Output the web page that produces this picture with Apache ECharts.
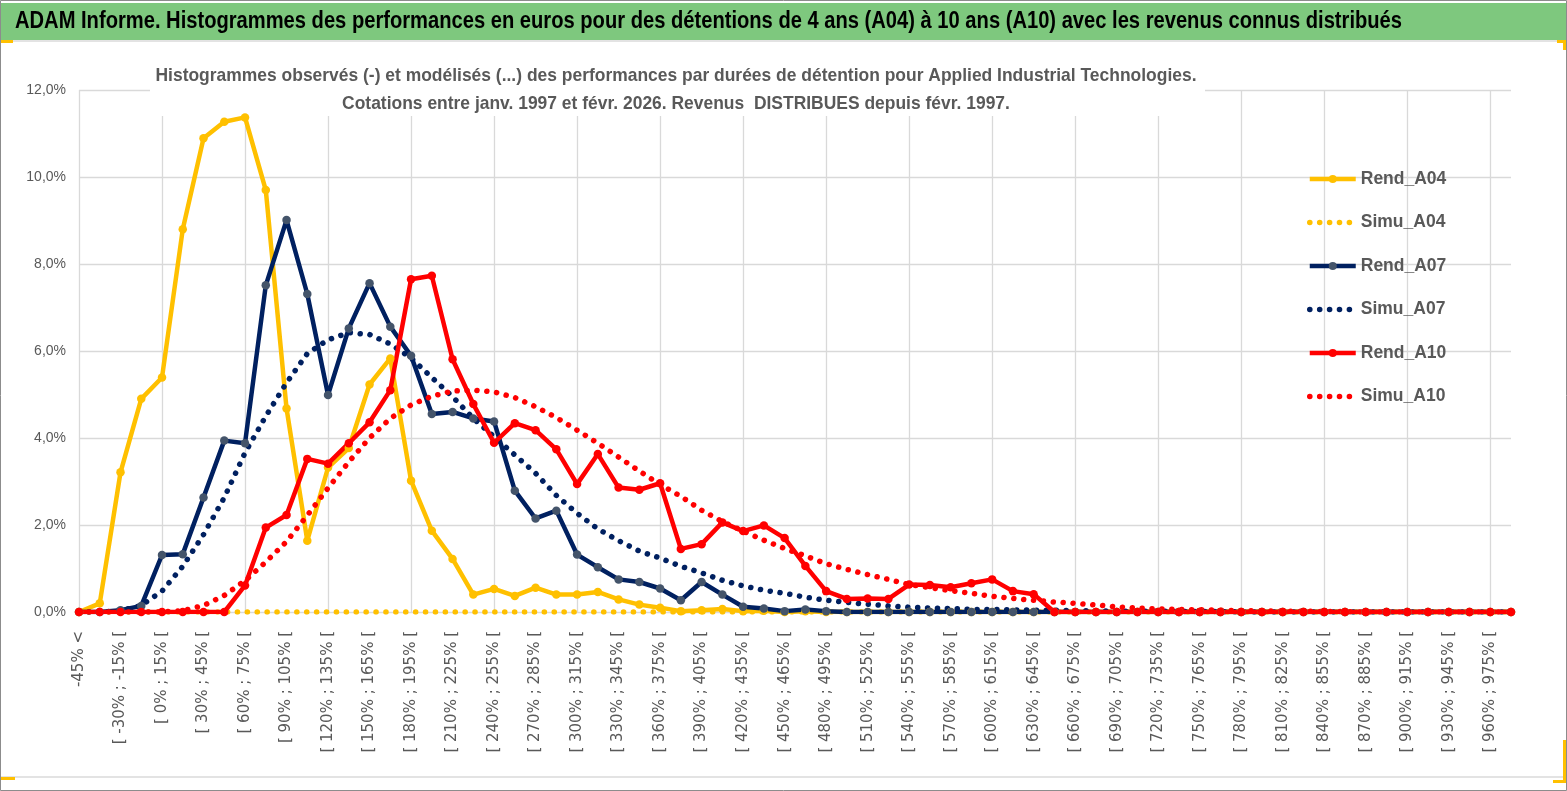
<!DOCTYPE html>
<html><head><meta charset="utf-8">
<script src="https://cdn.jsdelivr.net/npm/echarts@6/dist/echarts.min.js"></script>
<style>html,body{margin:0;padding:0;background:#fff;overflow:hidden}#c{width:1567px;height:791px}</style>
</head><body><div id="c"></div>
<script>
const categories = [
"-45% <",
"[ -45% ; -30% [", "[ -30% ; -15% [", "[ -15% ; 0% [", "[ 0% ; 15% [", "[ 15% ; 30% [", "[ 30% ; 45% [", "[ 45% ; 60% [", "[ 60% ; 75% [", "[ 75% ; 90% [", "[ 90% ; 105% [",
"[ 105% ; 120% [", "[ 120% ; 135% [", "[ 135% ; 150% [", "[ 150% ; 165% [", "[ 165% ; 180% [", "[ 180% ; 195% [", "[ 195% ; 210% [", "[ 210% ; 225% [", "[ 225% ; 240% [", "[ 240% ; 255% [",
"[ 255% ; 270% [", "[ 270% ; 285% [", "[ 285% ; 300% [", "[ 300% ; 315% [", "[ 315% ; 330% [", "[ 330% ; 345% [", "[ 345% ; 360% [", "[ 360% ; 375% [", "[ 375% ; 390% [", "[ 390% ; 405% [",
"[ 405% ; 420% [", "[ 420% ; 435% [", "[ 435% ; 450% [", "[ 450% ; 465% [", "[ 465% ; 480% [", "[ 480% ; 495% [", "[ 495% ; 510% [", "[ 510% ; 525% [", "[ 525% ; 540% [", "[ 540% ; 555% [",
"[ 555% ; 570% [", "[ 570% ; 585% [", "[ 585% ; 600% [", "[ 600% ; 615% [", "[ 615% ; 630% [", "[ 630% ; 645% [", "[ 645% ; 660% [", "[ 660% ; 675% [", "[ 675% ; 690% [", "[ 690% ; 705% [",
"[ 705% ; 720% [", "[ 720% ; 735% [", "[ 735% ; 750% [", "[ 750% ; 765% [", "[ 765% ; 780% [", "[ 780% ; 795% [", "[ 795% ; 810% [", "[ 810% ; 825% [", "[ 825% ; 840% [", "[ 840% ; 855% [",
"[ 855% ; 870% [", "[ 870% ; 885% [", "[ 885% ; 900% [", "[ 900% ; 915% [", "[ 915% ; 930% [", "[ 930% ; 945% [", "[ 945% ; 960% [", "[ 960% ; 975% [", "[ 975% ; 990% ["
];

const yTicks = [0, 2, 4, 6, 8, 10, 12];

// values in %
const rendA04 = [
 0, 0.20, 3.21, 4.90, 5.39, 8.80, 10.89, 11.27, 11.37, 9.70,
 4.68, 1.64, 3.32, 3.77, 5.23, 5.83, 3.02, 1.87, 1.22, 0.40,
 0.53, 0.37, 0.56, 0.40, 0.40, 0.46, 0.29, 0.17, 0.10, 0.02,
 0.04, 0.07, 0.02, 0.03, 0, 0.02, 0, 0, 0, 0,
 0, 0, 0, 0, 0, 0, 0, 0, 0, 0,
 0, 0, 0, 0, 0, 0, 0, 0, 0, 0,
 0, 0, 0, 0, 0, 0, 0, 0, 0, 0
];
const simuA04 = [
 0, 0, 0, 0, 0, 0, 0, 0, 0, 0,
 0, 0, 0, 0, 0, 0, 0, 0, 0, 0,
 0, 0, 0, 0, 0, 0, 0, 0, 0, 0,
 0, 0, 0, 0, 0, 0, 0, 0, 0, 0,
 0, 0, 0, 0, 0, 0, 0, 0, 0, 0,
 0, 0, 0, 0, 0, 0, 0, 0, 0, 0,
 0, 0, 0, 0, 0, 0, 0, 0, 0, 0
];
const rendA07 = [
 0, 0, 0.04, 0.14, 1.31, 1.33, 2.63, 3.94, 3.88, 7.51,
 9.01, 7.31, 4.99, 6.52, 7.56, 6.56, 5.89, 4.55, 4.60, 4.45,
 4.38, 2.79, 2.15, 2.33, 1.32, 1.03, 0.75, 0.69, 0.54, 0.27,
 0.69, 0.40, 0.12, 0.08, 0.02, 0.06, 0.02, 0, 0, 0,
 0, 0, 0, 0, 0, 0, 0, 0, 0, 0,
 0, 0, 0, 0, 0, 0, 0, 0, 0, 0,
 0, 0, 0, 0, 0, 0, 0, 0, 0, 0
];
const simuA07 = [
 0, 0, 0.03, 0.15, 0.48, 1.05, 1.78, 2.63, 3.66, 4.50,
 5.27, 5.94, 6.26, 6.42, 6.38, 6.16, 5.84, 5.39, 4.95, 4.45,
 4.03, 3.61, 3.19, 2.68, 2.27, 1.91, 1.64, 1.40, 1.24, 1.05,
 0.90, 0.73, 0.60, 0.50, 0.43, 0.34, 0.27, 0.22, 0.18, 0.14,
 0.11, 0.09, 0.08, 0.06, 0.06, 0.05, 0.04, 0.04, 0.03, 0.03,
 0.02, 0.02, 0.02, 0.01, 0.01, 0.01, 0, 0, 0, 0,
 0, 0, 0, 0, 0, 0, 0, 0, 0, 0
];
const rendA10 = [
 0, 0, 0, 0, 0, 0, 0, 0, 0.61, 1.94,
 2.23, 3.52, 3.41, 3.88, 4.36, 5.10, 7.65, 7.73, 5.81, 4.78,
 3.89, 4.34, 4.18, 3.74, 2.94, 3.63, 2.86, 2.81, 2.96, 1.45,
 1.56, 2.06, 1.86, 1.99, 1.70, 1.06, 0.48, 0.30, 0.31, 0.30,
 0.63, 0.62, 0.57, 0.66, 0.75, 0.48, 0.41, 0, 0, 0,
 0, 0, 0, 0, 0, 0, 0, 0, 0, 0,
 0, 0, 0, 0, 0, 0, 0, 0, 0, 0
];
const simuA10 = [
 0, 0, 0, 0, 0, 0.03, 0.15, 0.38, 0.72, 1.15,
 1.62, 2.22, 2.85, 3.45, 4.00, 4.45, 4.76, 4.96, 5.08, 5.10,
 5.06, 4.93, 4.72, 4.47, 4.18, 3.88, 3.56, 3.24, 2.93, 2.66,
 2.34, 2.08, 1.86, 1.65, 1.46, 1.29, 1.11, 0.98, 0.86, 0.75,
 0.63, 0.56, 0.49, 0.43, 0.36, 0.31, 0.27, 0.23, 0.20, 0.16,
 0.12, 0.09, 0.07, 0.06, 0.05, 0.04, 0.03, 0.03, 0.02, 0.02,
 0.01, 0.01, 0, 0, 0, 0, 0, 0, 0, 0
];

const seriesNames = ["Rend_A04", "Simu_A04", "Rend_A07", "Simu_A07", "Rend_A10", "Simu_A10"];
const mainTitle = "ADAM Informe. Histogrammes des performances en euros pour des détentions de 4 ans (A04) à 10 ans (A10) avec les revenus connus distribués";
const subTitle1 = "Histogrammes observés (-) et modélisés (...) des performances par durées de détention pour Applied Industrial Technologies.";
const subTitle2 = "Cotations entre janv. 1997 et févr. 2026. Revenus  DISTRIBUES depuis févr. 1997.";

const YEL = '#FFC000', NAVY = '#002060', NAVYM = '#44546A', RED = '#FF0000';
const GRID = '#D9D9D9', TXT = '#595959';
const SANS = '"Liberation Sans", Arial, sans-serif';

// horizontal condensing factors so text widths match the reference (no narrow font available)
const mctx = document.createElement('canvas').getContext('2d');
function fitScale(text, font, target) {
  mctx.font = font;
  const w = mctx.measureText(text).width;
  return w > 0 ? target / w : 1;
}
const TITLE_FONT = 'bold 23px ' + SANS;
const SUB_FONT = 'bold 19px ' + SANS;
const titleScale = fitScale(mainTitle, TITLE_FONT, 1387);
const subScale = fitScale(subTitle1, SUB_FONT, 1041);

function rend(name, data, lineColor, markColor) {
  return {
    name, type: 'line', data, symbol: 'circle', symbolSize: 8.5, showAllSymbol: true,
    lineStyle: { color: lineColor, width: 4.5 },
    itemStyle: { color: markColor, borderWidth: 0 },
    emphasis: { disabled: true }
  };
}
function simu(name, data, color) {
  return {
    name, type: 'line', data, symbol: 'none', showSymbol: false,
    lineStyle: { color, width: 5.5, type: [0.1, 9.8], cap: 'round' },
    itemStyle: { color },
    emphasis: { disabled: true }
  };
}

const chart = echarts.init(document.getElementById('c'), null, { renderer: 'canvas' });
chart.setOption({
  animation: false,
  backgroundColor: '#fff',
  grid: { left: 79, right: 56, top: 90, bottom: 179, containLabel: false },
  legend: {
    orient: 'vertical', left: 1307, top: 170, padding: 0,
    itemWidth: 46, itemHeight: 10, itemGap: 25.5,
    data: [
      { name: seriesNames[0], lineStyle: { width: 4.5 } },
      { name: seriesNames[1], lineStyle: { width: 5.5 }, itemStyle: { opacity: 0 } },
      { name: seriesNames[2], lineStyle: { width: 4.5 } },
      { name: seriesNames[3], lineStyle: { width: 5.5 }, itemStyle: { opacity: 0 } },
      { name: seriesNames[4], lineStyle: { width: 4.5 } },
      { name: seriesNames[5], lineStyle: { width: 5.5 }, itemStyle: { opacity: 0 } }
    ],
    textStyle: { fontFamily: SANS, fontWeight: 'bold', fontSize: 17.5, lineHeight: 18, color: TXT, padding: [0, 0, 0, 0] }
  },
  xAxis: {
    type: 'category', data: categories, boundaryGap: false,
    axisLine: { show: true, lineStyle: { color: GRID } },
    axisTick: { show: false },
    axisLabel: { interval: 1, rotate: 90, color: TXT, fontFamily: 'DejaVu Sans', fontSize: 15, margin: 19 },
    splitLine: { show: true, interval: 3, lineStyle: { color: GRID, width: 1.3 } }
  },
  yAxis: {
    type: 'value', min: yTicks[0], max: yTicks[yTicks.length - 1], interval: 2,
    axisLine: { show: false }, axisTick: { show: false },
    axisLabel: { color: TXT, fontFamily: SANS, fontSize: 14, margin: 13,
      formatter: v => v.toFixed(1).replace('.', ',') + '%' },
    splitLine: { lineStyle: { color: GRID, width: 1.3 } }
  },
  graphic: [
    { type: 'rect', z: 1, silent: true, shape: { x: 0.5, y: 0.5, width: 1566, height: 790 }, style: { fill: null, stroke: '#8c8c8c', lineWidth: 1 } },
    { type: 'rect', z: 1, silent: true, shape: { x: 1, y: 3, width: 1565, height: 37 }, style: { fill: '#7EC87E' } },
    { type: 'rect', z: 1, silent: true, shape: { x: 1, y: 40, width: 1565, height: 2 }, style: { fill: '#E3E3E3' } },
    { type: 'rect', z: 1, silent: true, shape: { x: 1, y: 776, width: 1565, height: 2 }, style: { fill: '#E3E3E3' } },
    { type: 'rect', z: 2, silent: true, shape: { x: 1, y: 40, width: 12, height: 3 }, style: { fill: YEL } },
    { type: 'rect', z: 2, silent: true, shape: { x: 1, y: 777, width: 14, height: 3 }, style: { fill: YEL } },
    { type: 'rect', z: 2, silent: true, shape: { x: 1557, y: 40, width: 9, height: 3 }, style: { fill: YEL } },
    { type: 'rect', z: 2, silent: true, shape: { x: 1563, y: 40, width: 3, height: 10 }, style: { fill: YEL } },
    { type: 'rect', z: 2, silent: true, shape: { x: 1563, y: 740, width: 3, height: 42 }, style: { fill: YEL } },
    { type: 'rect', z: 2, silent: true, shape: { x: 1553, y: 780, width: 13, height: 3 }, style: { fill: YEL } },
    { type: 'text', z: 3, silent: true, x: 15, y: 22, scaleX: titleScale,
      style: { text: mainTitle, font: TITLE_FONT, fill: '#000', align: 'left', verticalAlign: 'middle' } },
    { type: 'rect', z: 1, silent: true, shape: { x: 150, y: 58, width: 1055, height: 58 }, style: { fill: '#fff' } },
    { type: 'text', z: 3, silent: true, x: 676, y: 76, scaleX: subScale,
      style: { text: subTitle1, font: SUB_FONT, fill: TXT, align: 'center', verticalAlign: 'middle' } },
    { type: 'text', z: 3, silent: true, x: 676, y: 104, scaleX: subScale,
      style: { text: subTitle2, font: SUB_FONT, fill: TXT, align: 'center', verticalAlign: 'middle' } }
  ],
  series: [
    rend(seriesNames[0], rendA04, YEL, YEL),
    simu(seriesNames[1], simuA04, YEL),
    rend(seriesNames[2], rendA07, NAVY, NAVYM),
    simu(seriesNames[3], simuA07, NAVY),
    rend(seriesNames[4], rendA10, RED, RED),
    simu(seriesNames[5], simuA10, RED)
  ]
});
</script>
</body></html>
